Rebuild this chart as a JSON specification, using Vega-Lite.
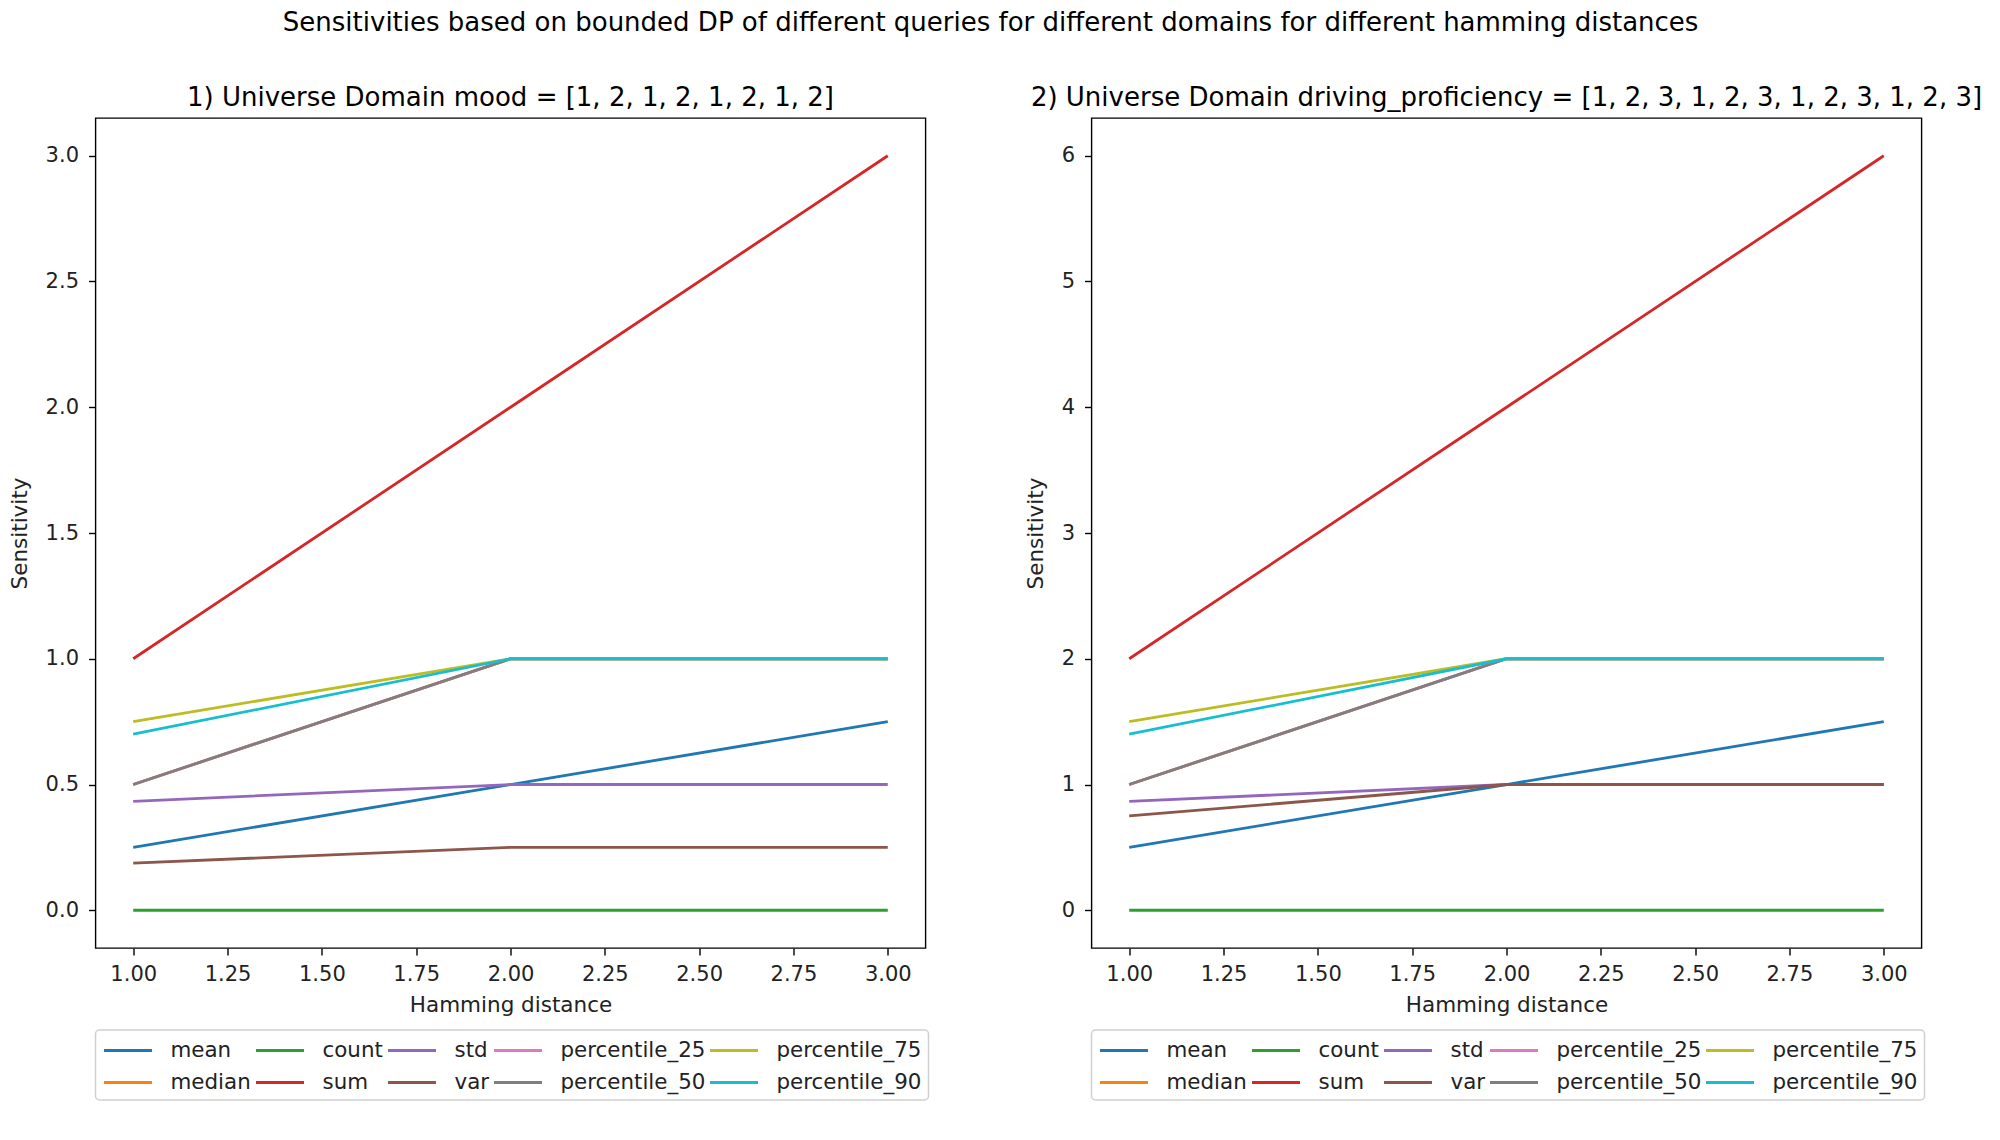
{
  "$schema": "https://vega.github.io/schema/vega-lite/v6.json",
  "title": {
    "text": "Sensitivities based on bounded DP of different queries for different domains for different hamming distances",
    "fontSize": 26,
    "fontWeight": "normal",
    "anchor": "middle",
    "dx": -5,
    "offset": 48
  },
  "background": "white",
  "padding": {"left": 7.5, "top": 10, "right": 5, "bottom": 5},
  "bounds": "flush",
  "spacing": 166,
  "datasets": {
    "mood": [
      {"hamming": 1, "query": "mean", "sensitivity": 0.25},
      {"hamming": 2, "query": "mean", "sensitivity": 0.5},
      {"hamming": 3, "query": "mean", "sensitivity": 0.75},
      {"hamming": 1, "query": "median", "sensitivity": 0.5},
      {"hamming": 2, "query": "median", "sensitivity": 1},
      {"hamming": 3, "query": "median", "sensitivity": 1},
      {"hamming": 1, "query": "count", "sensitivity": 0},
      {"hamming": 2, "query": "count", "sensitivity": 0},
      {"hamming": 3, "query": "count", "sensitivity": 0},
      {"hamming": 1, "query": "sum", "sensitivity": 1},
      {"hamming": 2, "query": "sum", "sensitivity": 2},
      {"hamming": 3, "query": "sum", "sensitivity": 3},
      {"hamming": 1, "query": "std", "sensitivity": 0.433},
      {"hamming": 2, "query": "std", "sensitivity": 0.5},
      {"hamming": 3, "query": "std", "sensitivity": 0.5},
      {"hamming": 1, "query": "var", "sensitivity": 0.1875},
      {"hamming": 2, "query": "var", "sensitivity": 0.25},
      {"hamming": 3, "query": "var", "sensitivity": 0.25},
      {"hamming": 1, "query": "percentile_25", "sensitivity": 0.5},
      {"hamming": 2, "query": "percentile_25", "sensitivity": 1},
      {"hamming": 3, "query": "percentile_25", "sensitivity": 1},
      {"hamming": 1, "query": "percentile_50", "sensitivity": 0.5},
      {"hamming": 2, "query": "percentile_50", "sensitivity": 1},
      {"hamming": 3, "query": "percentile_50", "sensitivity": 1},
      {"hamming": 1, "query": "percentile_75", "sensitivity": 0.75},
      {"hamming": 2, "query": "percentile_75", "sensitivity": 1},
      {"hamming": 3, "query": "percentile_75", "sensitivity": 1},
      {"hamming": 1, "query": "percentile_90", "sensitivity": 0.7},
      {"hamming": 2, "query": "percentile_90", "sensitivity": 1},
      {"hamming": 3, "query": "percentile_90", "sensitivity": 1}
    ],
    "driving": [
      {"hamming": 1, "query": "mean", "sensitivity": 0.5},
      {"hamming": 2, "query": "mean", "sensitivity": 1},
      {"hamming": 3, "query": "mean", "sensitivity": 1.5},
      {"hamming": 1, "query": "median", "sensitivity": 1},
      {"hamming": 2, "query": "median", "sensitivity": 2},
      {"hamming": 3, "query": "median", "sensitivity": 2},
      {"hamming": 1, "query": "count", "sensitivity": 0},
      {"hamming": 2, "query": "count", "sensitivity": 0},
      {"hamming": 3, "query": "count", "sensitivity": 0},
      {"hamming": 1, "query": "sum", "sensitivity": 2},
      {"hamming": 2, "query": "sum", "sensitivity": 4},
      {"hamming": 3, "query": "sum", "sensitivity": 6},
      {"hamming": 1, "query": "std", "sensitivity": 0.866},
      {"hamming": 2, "query": "std", "sensitivity": 1},
      {"hamming": 3, "query": "std", "sensitivity": 1},
      {"hamming": 1, "query": "var", "sensitivity": 0.75},
      {"hamming": 2, "query": "var", "sensitivity": 1},
      {"hamming": 3, "query": "var", "sensitivity": 1},
      {"hamming": 1, "query": "percentile_25", "sensitivity": 1},
      {"hamming": 2, "query": "percentile_25", "sensitivity": 2},
      {"hamming": 3, "query": "percentile_25", "sensitivity": 2},
      {"hamming": 1, "query": "percentile_50", "sensitivity": 1},
      {"hamming": 2, "query": "percentile_50", "sensitivity": 2},
      {"hamming": 3, "query": "percentile_50", "sensitivity": 2},
      {"hamming": 1, "query": "percentile_75", "sensitivity": 1.5},
      {"hamming": 2, "query": "percentile_75", "sensitivity": 2},
      {"hamming": 3, "query": "percentile_75", "sensitivity": 2},
      {"hamming": 1, "query": "percentile_90", "sensitivity": 1.4},
      {"hamming": 2, "query": "percentile_90", "sensitivity": 2},
      {"hamming": 3, "query": "percentile_90", "sensitivity": 2}
    ]
  },
  "resolve": {"legend": {"color": "independent"}},
  "hconcat": [
    {
      "title": "1) Universe Domain mood = [1, 2, 1, 2, 1, 2, 1, 2]",
      "data": {"name": "mood"},
      "width": 830,
      "height": 830,
      "mark": {"type": "line", "strokeWidth": 2.8},
      "encoding": {
        "x": {
          "field": "hamming",
          "type": "quantitative",
          "title": "Hamming distance",
          "scale": {"domain": [0.9, 3.1], "nice": false, "zero": false},
          "axis": {"values": [1, 1.25, 1.5, 1.75, 2, 2.25, 2.5, 2.75, 3], "format": ".2f"}
        },
        "y": {
          "field": "sensitivity",
          "type": "quantitative",
          "title": "Sensitivity",
          "scale": {"domain": [-0.15, 3.15], "nice": false, "zero": false},
          "axis": {"values": [0, 0.5, 1, 1.5, 2, 2.5, 3], "format": ".1f"}
        },
        "color": {
          "field": "query",
          "type": "nominal",
          "scale": {
            "domain": ["mean", "count", "std", "percentile_25", "percentile_75", "median", "sum", "var", "percentile_50", "percentile_90"],
            "range": ["#1f77b4", "#2ca02c", "#9467bd", "#e377c2", "#bcbd22", "#ff7f0e", "#d62728", "#8c564b", "#7f7f7f", "#17becf"]
          },
          "legend": {"title": null}
        }
      }
    },
    {
      "title": "2) Universe Domain driving_proficiency = [1, 2, 3, 1, 2, 3, 1, 2, 3, 1, 2, 3]",
      "data": {"name": "driving"},
      "width": 830,
      "height": 830,
      "mark": {"type": "line", "strokeWidth": 2.8},
      "encoding": {
        "x": {
          "field": "hamming",
          "type": "quantitative",
          "title": "Hamming distance",
          "scale": {"domain": [0.9, 3.1], "nice": false, "zero": false},
          "axis": {"values": [1, 1.25, 1.5, 1.75, 2, 2.25, 2.5, 2.75, 3], "format": ".2f"}
        },
        "y": {
          "field": "sensitivity",
          "type": "quantitative",
          "title": "Sensitivity",
          "scale": {"domain": [-0.3, 6.3], "nice": false, "zero": false},
          "axis": {"values": [0, 1, 2, 3, 4, 5, 6], "format": "d"}
        },
        "color": {
          "field": "query",
          "type": "nominal",
          "scale": {
            "domain": ["mean", "count", "std", "percentile_25", "percentile_75", "median", "sum", "var", "percentile_50", "percentile_90"],
            "range": ["#1f77b4", "#2ca02c", "#9467bd", "#e377c2", "#bcbd22", "#ff7f0e", "#d62728", "#8c564b", "#7f7f7f", "#17becf"]
          },
          "legend": {"title": null}
        }
      }
    }
  ],
  "config": {
    "font": "DejaVu Sans",
    "view": {"stroke": "#000000", "strokeWidth": 1.4},
    "title": {"fontSize": 26, "fontWeight": "normal", "color": "#000000", "offset": 7},
    "axis": {
      "grid": false,
      "domain": false,
      "ticks": true,
      "tickColor": "#000000",
      "tickWidth": 1.4,
      "tickSize": 7,
      "labelFontSize": 21,
      "labelColor": "#222222",
      "labelPadding": 8,
      "titleFontSize": 21.5,
      "titleFontWeight": "normal",
      "titleColor": "#222222",
      "titlePadding": 10
    },
    "axisY": {"labelPadding": 10, "titlePadding": 14},
    "legend": {
      "orient": "bottom",
      "direction": "horizontal",
      "columns": 5,
      "symbolType": "M-1,0H3",
      "symbolSize": 576,
      "symbolStrokeWidth": 3,
      "labelFontSize": 21.4,
      "labelColor": "#222222",
      "labelOffset": 41,
      "columnPadding": -2,
      "rowPadding": 8,
      "padding": 7,
      "offset": 14,
      "strokeColor": "#d0d0d0",
      "strokeWidth": 1.5,
      "cornerRadius": 4,
      "fillColor": "#ffffff"
    }
  }
}
